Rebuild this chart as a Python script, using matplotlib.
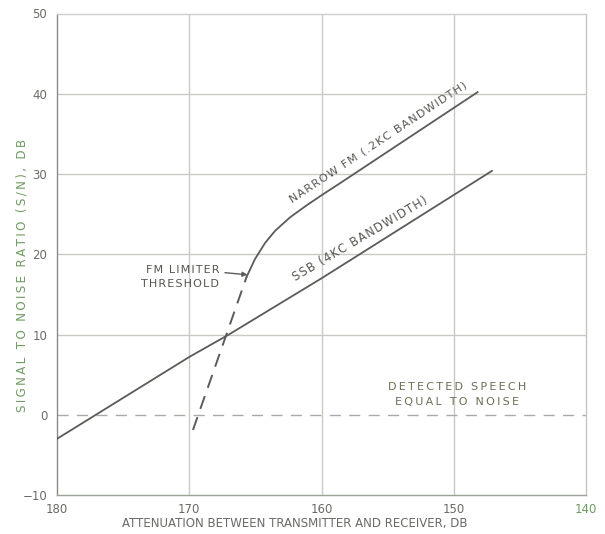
import matplotlib
matplotlib.use("Agg")
import matplotlib.pyplot as plt

# Attenuation (dB) and signal-to-noise ratio (dB)
ssb_atten = [180.0, 170.0, 167.0, 160.0, 147.1]
ssb_snr = [-3.0, 7.2, 10.0, 17.0, 30.4]

fm_atten = [165.66, 165.03, 164.27, 163.52, 162.38, 161.12, 159.86, 158.6, 157.5, 148.2]
fm_snr = [17.2, 19.4, 21.4, 22.9, 24.6, 26.1, 27.5, 28.85, 30.05, 40.2]

thresh_atten = [169.72, 165.66]
thresh_snr = [-1.9, 17.2]

x_ticks = [180, 170, 160, 150, 140]
y_ticks = [-10, 0, 10, 20, 30, 40, 50]

ink = "#5a5c58"
grid_c = "#c9cac6"
label_c = "#6a6a66"
text_c = "#55574f"
green = "#6f9a62"


def track(s, sep="\u200a"):
    """Letter-space a caption the way hand lettering is spaced."""
    return sep.join(s)


fig = plt.figure(figsize=(6.05, 5.34), dpi=100)
ax = fig.add_axes([57/605, 1-495/534, (586-57)/605, (495-13.5)/534])
ax.set_xlim(180, 140)
ax.set_ylim(-10, 50)

# grid
for xv in x_ticks[1:-1]:
    ax.axvline(xv, color=grid_c, lw=1.0, zorder=1)
for yv in y_ticks[1:-1]:
    if yv == 0:
        ax.axhline(yv, color="#a9aaa6", lw=1.0, ls=(0, (8, 6)), zorder=1)
    else:
        ax.axhline(yv, color=grid_c, lw=1.0, zorder=1)

ax.plot(ssb_atten, ssb_snr, color=ink, lw=1.3, zorder=3, solid_capstyle="round")
ax.plot(fm_atten, fm_snr, color=ink, lw=1.3, zorder=3, solid_joinstyle="round")
ax.plot(thresh_atten, thresh_snr, color=ink, lw=1.4, ls=(0, (7, 4.5)), zorder=3)

for side, c in [("left", "#8a8b87"), ("bottom", "#9aa394"), ("right", "#c4c5c1"), ("top", "#cfd0cc")]:
    ax.spines[side].set_color(c)
    ax.spines[side].set_linewidth(1.0)

ax.set_xticks(x_ticks)
ax.set_yticks(y_ticks)
ax.tick_params(length=0, labelsize=8.5, colors=label_c)
ax.tick_params(axis="x", pad=6)
ax.tick_params(axis="y", pad=7)
ax.set_xticklabels([str(v) for v in x_ticks])
ax.set_yticklabels(["\u221210" if v < 0 else str(v) for v in y_ticks])
ax.get_xticklabels()[-1].set_color(green)

fig.text(295/605, 1-524/534, "ATTENUATION BETWEEN TRANSMITTER AND RECEIVER, DB",
         fontsize=8.5, color=label_c, ha="center", va="center")
fig.text(22/605, 1-275/534, track("SIGNAL TO NOISE RATIO (S/N), DB", "\u2009"),
         fontsize=8.6, color=green, ha="center", va="center", rotation=90)

ax.text(155.69, 34.0, track("NARROW FM (.2KC BANDWIDTH)"), rotation=33.5, fontsize=8,
        color=text_c, ha="center", va="center", rotation_mode="anchor")
ax.text(157.05, 21.9, track("SSB (4KC BANDWIDTH)"), rotation=30.6, fontsize=8.3,
        color=text_c, ha="center", va="center", rotation_mode="anchor")
ax.text(167.75, 17.2, track("FM LIMITER") + "\n" + track("THRESHOLD"), fontsize=8,
        color=text_c, ha="right", va="center", linespacing=1.45)
ax.annotate("", xy=(165.6, 17.45), xytext=(167.3, 17.7),
            arrowprops=dict(arrowstyle="-|>", color=ink, lw=1.0, mutation_scale=7,
                            shrinkA=0, shrinkB=0))
ax.text(149.72, 2.5, track("DETECTED SPEECH", "\u2009") + "\n" + track("EQUAL TO NOISE", "\u2009"),
        fontsize=8, color="#6d6e55", ha="center", va="center", linespacing=1.6)

fig.savefig("out.png", dpi=100)
